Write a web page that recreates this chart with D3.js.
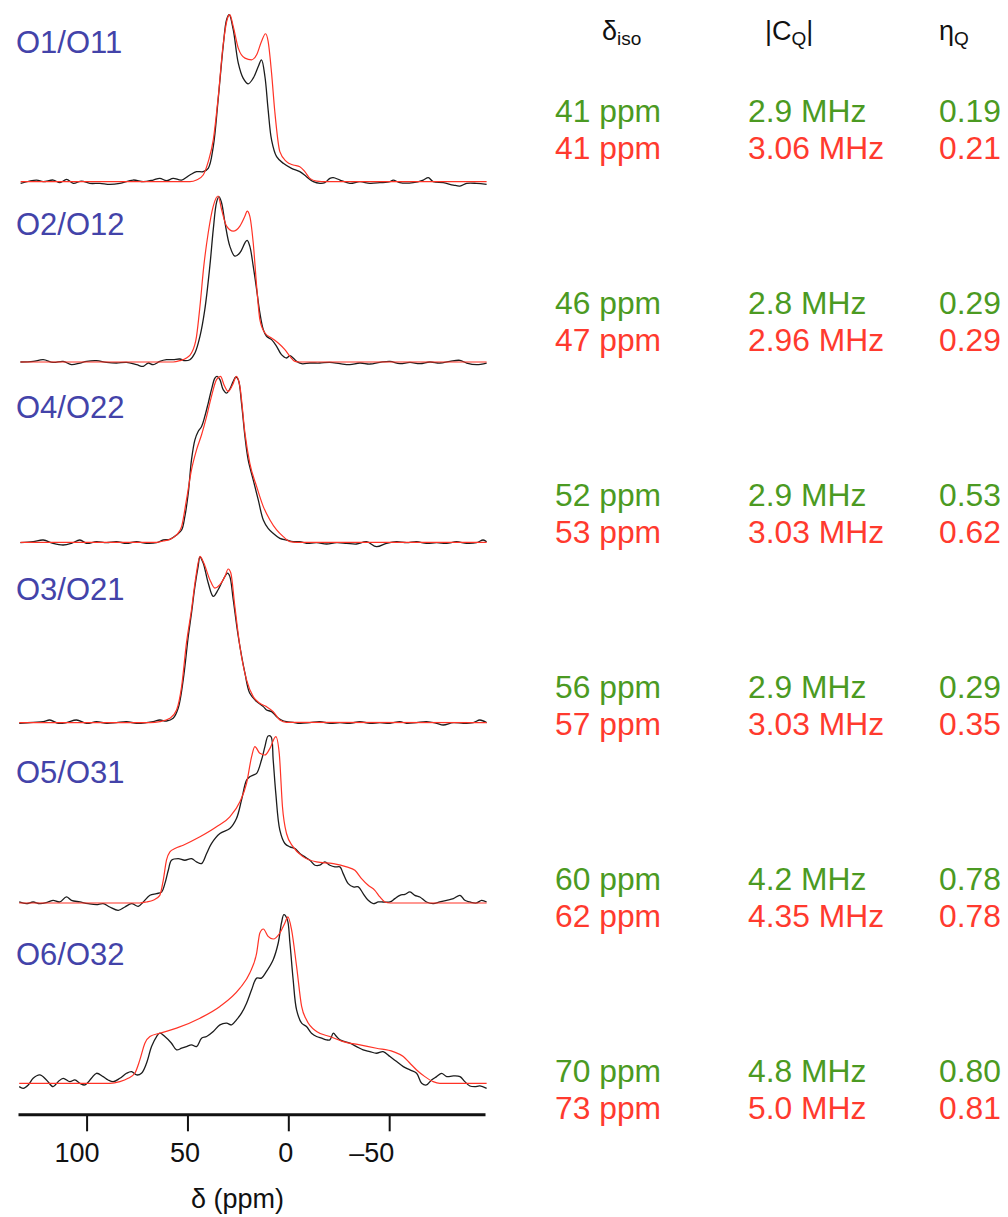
<!DOCTYPE html>
<html>
<head>
<meta charset="utf-8">
<script src="https://cdn.jsdelivr.net/npm/d3@7"></script>
<style>
  body { margin: 0; background: #fff; }
  svg { display: block; font-family: "Liberation Sans", Arial, Helvetica, sans-serif; }
</style>
</head>
<body>
<svg id="chart" width="1008" height="1217"></svg>
<script>
// Site labels, one per stacked spectrum (top to bottom)
const sites = ["O1/O11", "O2/O12", "O4/O22", "O3/O21", "O5/O31", "O6/O32"];

// Fit parameters: experiment (green) and simulation (red)
const isoExp = ["41 ppm", "46 ppm", "52 ppm", "56 ppm", "60 ppm", "70 ppm"];
const isoSim = ["41 ppm", "47 ppm", "53 ppm", "57 ppm", "62 ppm", "73 ppm"];
const cqExp = ["2.9 MHz", "2.8 MHz", "2.9 MHz", "2.9 MHz", "4.2 MHz", "4.8 MHz"];
const cqSim = ["3.06 MHz", "2.96 MHz", "3.03 MHz", "3.03 MHz", "4.35 MHz", "5.0 MHz"];
const etaExp = ["0.19", "0.29", "0.53", "0.29", "0.78", "0.80"];
const etaSim = ["0.21", "0.29", "0.62", "0.35", "0.78", "0.81"];

// Axis ticks
const tickValues = [100, 50, 0, -50];
const tickLabels = ["100", "50", "0", "\u201350"];

// Spectra as [ppm, normalised intensity]
const expO1 = [[132.7,-0.01],[124.8,0.01],[121.5,0],[116.5,0.01],[113.2,-0.006],[109.9,0.014],[106.6,-0.01],[102.5,0.004],[98.4,-0.01],[93.4,-0.01],[88.5,-0.016],[83.5,-0.01],[76.9,0.01],[71.9,0],[67.0,0.01],[63.7,0.02],[60.4,0.006],[57.1,0.02],[52.9,0.01],[48.8,0.04],[45.5,0.06],[42.2,0.06],[39.7,0.08],[37.2,0.21],[34.8,0.49],[32.3,0.81],[30.6,0.97],[29.3,1.0],[27.3,0.91],[24.8,0.71],[22.4,0.62],[19.9,0.586],[17.4,0.62],[14.9,0.69],[13.3,0.73],[11.6,0.63],[10.0,0.43],[8.3,0.25],[5.8,0.15],[2.5,0.11],[-1.6,0.08],[-5.7,0.06],[-9.0,0.03],[-12.4,0],[-15.7,-0.01],[-18.1,-0.006],[-20.6,0.02],[-22.3,0.024],[-25.6,0.01],[-30.5,-0.01],[-35.5,0],[-40.4,-0.01],[-45.4,-0.006],[-50.4,0],[-52.0,0.01],[-55.3,-0.006],[-61.9,-0.006],[-66.9,0.01],[-69.4,0.024],[-71.8,0],[-76.8,-0.006],[-81.8,-0.02],[-85.1,-0.026],[-88.4,-0.01],[-93.3,-0.01],[-98.3,-0.016]];
const simO1 = [[132.7,0],[48.8,0],[45.5,0.01],[42.2,0.04],[39.7,0.12],[37.2,0.25],[34.8,0.5],[32.3,0.82],[30.1,0.98],[29.0,1.0],[27.3,0.93],[24.8,0.8],[21.5,0.74],[18.2,0.73],[15.7,0.76],[13.3,0.84],[11.3,0.886],[10.0,0.84],[8.3,0.65],[6.7,0.42],[4.2,0.18],[0.9,0.12],[-2.4,0.1],[-5.7,0.09],[-8.2,0.06],[-10.7,0.02],[-14.0,0.004],[-19.0,0],[-98.3,0]];

const expO2 = [[132.8,0],[126.5,0.004],[121.5,0.014],[116.6,-0.002],[111.6,0.004],[107.5,-0.016],[103.3,-0.006],[100.0,0.004],[95.1,0.008],[90.1,-0.002],[85.2,-0.006],[80.2,-0.002],[75.2,-0.016],[71.9,-0.026],[69.5,-0.006],[67.0,-0.016],[63.7,0.004],[60.4,0.014],[57.1,0.014],[53.8,0.018],[51.3,0.008],[48.8,0.014],[46.3,0.054],[43.8,0.154],[41.4,0.314],[38.9,0.574],[37.2,0.794],[35.6,0.954],[34.4,0.99],[33.1,0.954],[31.4,0.834],[29.0,0.694],[26.5,0.634],[24.0,0.654],[21.5,0.714],[20.4,0.728],[19.1,0.694],[17.4,0.574],[15.7,0.434],[14.1,0.294],[12.4,0.194],[10.8,0.154],[8.3,0.134],[5.8,0.094],[3.4,0.044],[0.9,0.024],[-0.8,0.038],[-2.4,0.024],[-4.1,0.004],[-6.6,-0.01],[-10.7,-0.006],[-15.6,-0.006],[-20.6,-0.002],[-25.6,-0.01],[-30.5,-0.016],[-35.5,-0.006],[-40.4,-0.012],[-45.4,-0.002],[-50.4,0.004],[-55.3,-0.01],[-60.3,-0.002],[-65.2,-0.01],[-70.2,0],[-75.1,-0.006],[-80.1,0.004],[-85.1,0.01],[-88.4,-0.006],[-93.3,-0.016],[-98.3,-0.006]];
const simO2 = [[132.8,0],[57.1,0],[53.8,0.008],[50.5,0.024],[48.0,0.054],[45.5,0.154],[43.8,0.334],[41.9,0.574],[39.7,0.774],[37.2,0.934],[34.8,0.994],[33.1,0.914],[30.6,0.814],[27.3,0.784],[24.0,0.814],[21.5,0.874],[20.4,0.904],[19.1,0.874],[17.4,0.714],[15.7,0.454],[14.1,0.254],[11.6,0.174],[8.3,0.144],[5.0,0.114],[1.7,0.074],[-0.8,0.034],[-3.3,0.004],[-5.7,0],[-98.3,0]];

const expO4 = [[132.8,-0.002],[126.5,0.004],[121.5,0.014],[116.6,-0.006],[111.6,-0.016],[107.5,-0.006],[103.3,0.014],[100.0,-0.006],[95.1,0.004],[90.1,-0.002],[85.2,0.004],[80.2,-0.006],[75.2,0.004],[70.3,-0.006],[65.3,-0.002],[62.0,0.014],[58.7,0.018],[55.4,0.044],[52.9,0.074],[51.3,0.154],[49.6,0.294],[48.0,0.494],[46.3,0.614],[44.7,0.664],[43.0,0.694],[41.4,0.754],[39.7,0.834],[38.1,0.914],[36.4,0.984],[35.3,0.994],[33.9,0.974],[32.3,0.914],[30.6,0.894],[29.0,0.918],[27.3,0.964],[26.0,0.99],[24.8,0.974],[23.2,0.834],[21.5,0.634],[19.9,0.494],[17.4,0.374],[14.9,0.254],[12.4,0.134],[10.0,0.084],[7.5,0.054],[4.2,0.024],[0.9,0.014],[-2.4,0.004],[-5.7,0.004],[-9.0,-0.006],[-14.0,-0.002],[-19.0,-0.01],[-23.9,-0.002],[-28.9,-0.006],[-33.8,-0.01],[-38.8,0.004],[-43.7,-0.026],[-48.7,-0.006],[-53.7,0.004],[-58.6,-0.002],[-63.6,0.004],[-68.5,-0.006],[-73.5,-0.002],[-78.5,-0.006],[-83.4,0.004],[-88.4,-0.006],[-93.3,-0.002],[-96.6,0.014],[-98.3,0.004]];
const simO4 = [[132.8,0],[65.3,0],[62.0,0.008],[58.7,0.018],[55.4,0.044],[52.9,0.094],[50.5,0.254],[48.0,0.434],[45.5,0.554],[43.0,0.644],[40.5,0.754],[38.1,0.874],[35.6,0.974],[33.6,0.994],[31.9,0.944],[29.8,0.904],[27.6,0.944],[25.7,0.994],[24.0,0.934],[21.5,0.654],[19.1,0.474],[15.7,0.334],[12.4,0.214],[9.1,0.134],[5.8,0.074],[2.5,0.034],[-0.8,0.004],[-4.1,0],[-98.3,0]];

const expO3 = [[133.4,-0.004],[126.5,0.002],[121.5,0.006],[118.2,0.016],[114.1,-0.004],[110.0,0],[105.0,0.016],[100.0,-0.004],[95.1,0.006],[90.1,-0.004],[85.2,0],[80.2,0.006],[75.2,-0.004],[70.3,0],[67.0,0.006],[63.7,0.016],[60.4,0.01],[57.1,0.026],[54.6,0.086],[52.1,0.256],[49.6,0.516],[48.0,0.656],[46.3,0.816],[44.7,0.936],[43.8,0.992],[42.2,0.956],[39.7,0.836],[37.2,0.756],[34.8,0.796],[32.3,0.856],[30.1,0.896],[29.0,0.876],[27.3,0.736],[24.8,0.516],[21.5,0.296],[19.1,0.176],[15.7,0.126],[12.4,0.096],[10.8,0.076],[8.3,0.066],[5.8,0.036],[3.4,0.016],[0.9,0.006],[-2.4,0.002],[-5.7,-0.004],[-10.7,0],[-15.6,0.006],[-20.6,-0.004],[-25.6,0],[-30.5,-0.004],[-35.5,0.006],[-40.4,-0.004],[-45.4,0],[-50.4,-0.004],[-55.3,0.006],[-58.6,-0.004],[-63.6,0],[-68.5,0.006],[-73.5,-0.004],[-76.8,-0.014],[-81.8,0],[-86.7,-0.004],[-91.7,0],[-95.0,0.016],[-98.3,0]];
const simO3 = [[133.4,0],[68.6,0],[63.7,0.006],[58.7,0.026],[55.4,0.076],[52.9,0.216],[50.5,0.476],[48.0,0.676],[45.8,0.876],[43.8,0.996],[41.9,0.956],[38.9,0.856],[36.4,0.806],[33.9,0.826],[31.4,0.876],[29.8,0.92],[28.5,0.896],[26.5,0.696],[24.0,0.456],[20.7,0.256],[17.4,0.156],[14.1,0.116],[10.8,0.096],[7.5,0.066],[4.2,0.016],[0.9,0.002],[-98.3,0]];

const expO5 = [[133.4,0.006],[129.8,-0.004],[126.5,0.006],[123.2,-0.004],[119.0,0.006],[116.6,0.016],[113.3,0.006],[110.0,0.036],[107.5,0.016],[103.3,0.006],[99.2,-0.004],[95.1,-0.01],[91.8,-0.004],[88.5,-0.024],[84.3,-0.044],[81.0,-0.024],[77.7,-0.004],[74.4,-0.02],[71.9,0.006],[68.6,0.046],[65.3,0.056],[62.8,0.066],[61.2,0.116],[59.5,0.196],[57.9,0.256],[54.6,0.266],[51.3,0.256],[48.0,0.266],[45.5,0.246],[43.0,0.236],[40.5,0.296],[38.1,0.356],[33.9,0.416],[29.0,0.446],[25.7,0.506],[23.2,0.616],[20.7,0.736],[19.1,0.756],[17.4,0.766],[15.7,0.776],[13.3,0.856],[11.6,0.936],[10.0,1.0],[8.6,0.996],[7.5,0.856],[6.2,0.656],[4.2,0.436],[1.7,0.356],[-0.8,0.336],[-3.3,0.326],[-5.7,0.296],[-8.2,0.276],[-10.7,0.256],[-13.2,0.226],[-15.6,0.226],[-18.1,0.246],[-20.6,0.226],[-23.1,0.216],[-25.6,0.216],[-27.2,0.176],[-29.7,0.116],[-32.2,0.096],[-34.7,0.096],[-37.1,0.056],[-39.6,0.016],[-42.1,-0.004],[-44.6,0.006],[-47.0,0.006],[-50.4,0.006],[-52.8,0.026],[-55.3,0.046],[-57.8,0.052],[-60.3,0.066],[-62.7,0.046],[-65.2,0.036],[-68.5,0.006],[-71.8,-0.004],[-75.1,0.006],[-78.5,0.016],[-81.8,0.026],[-85.1,0.046],[-87.5,0.016],[-90.0,0.006],[-93.3,0],[-95.8,0.016],[-98.3,0.006]];
const simO5 = [[133.4,0],[73.6,0],[70.3,0.006],[67.0,0.016],[63.7,0.046],[62.0,0.136],[60.4,0.256],[58.7,0.306],[56.2,0.326],[52.1,0.346],[43.8,0.396],[35.6,0.456],[29.0,0.516],[24.0,0.606],[20.7,0.716],[18.2,0.876],[16.6,0.936],[14.1,0.896],[11.6,0.886],[9.1,0.926],[6.2,0.996],[4.5,0.896],[2.9,0.576],[0.9,0.416],[-2.4,0.336],[-7.4,0.276],[-14.0,0.246],[-22.3,0.236],[-28.9,0.216],[-33.0,0.196],[-36.3,0.146],[-39.6,0.106],[-42.9,0.076],[-45.4,0.036],[-47.9,0.006],[-50.4,0],[-98.3,0]];

const expO6 = [[133.4,-0.02],[131.4,-0.03],[128.9,-0.01],[126.5,0.03],[123.2,0.05],[119.9,0.02],[116.6,-0.02],[114.1,0.01],[111.6,0.03],[108.3,0.01],[105.8,0.02],[103.3,0],[100.9,-0.01],[97.6,0.03],[95.1,0.06],[91.8,0.04],[89.3,0.02],[86.8,0.01],[83.5,0.03],[80.2,0.06],[77.7,0.07],[75.2,0.05],[72.8,0.06],[70.3,0.12],[67.8,0.22],[65.3,0.28],[63.7,0.30],[61.2,0.28],[57.9,0.24],[55.4,0.20],[52.9,0.21],[50.5,0.22],[48.0,0.23],[45.5,0.22],[43.0,0.27],[40.5,0.28],[37.2,0.31],[33.9,0.35],[30.6,0.36],[28.1,0.35],[25.7,0.38],[23.2,0.42],[20.7,0.48],[18.2,0.56],[15.7,0.63],[13.3,0.63],[10.8,0.67],[7.5,0.74],[5.0,0.84],[3.4,0.96],[2.2,1.01],[0.5,0.98],[-0.8,0.84],[-2.4,0.62],[-4.1,0.44],[-6.6,0.36],[-9.0,0.34],[-11.5,0.30],[-14.0,0.28],[-16.5,0.27],[-19.0,0.26],[-20.6,0.26],[-22.3,0.30],[-23.9,0.28],[-25.6,0.26],[-28.0,0.25],[-30.5,0.24],[-33.8,0.22],[-37.1,0.20],[-40.4,0.19],[-43.7,0.18],[-47.0,0.19],[-50.4,0.16],[-53.7,0.13],[-57.0,0.10],[-60.3,0.08],[-63.6,0.06],[-66.1,0],[-68.5,-0.01],[-71.0,0.02],[-73.5,0.04],[-76.0,0.06],[-78.5,0.04],[-81.8,0.044],[-85.1,0.04],[-87.5,0.01],[-90.0,-0.016],[-92.5,-0.02],[-95.0,-0.016],[-98.3,-0.03]];
const simO6 = [[133.4,0],[88.5,0],[83.5,0.01],[79.4,0.03],[76.1,0.06],[73.6,0.14],[71.1,0.24],[68.6,0.28],[63.7,0.30],[55.4,0.33],[43.8,0.39],[33.9,0.46],[24.0,0.57],[19.1,0.66],[15.7,0.78],[14.1,0.90],[12.4,0.924],[10.0,0.88],[7.5,0.864],[4.2,0.90],[1.7,0.96],[0.2,0.996],[-1.6,0.92],[-4.1,0.70],[-6.6,0.46],[-9.0,0.38],[-14.0,0.31],[-20.6,0.28],[-27.2,0.25],[-35.5,0.23],[-43.7,0.21],[-52.0,0.19],[-57.0,0.16],[-60.3,0.12],[-63.6,0.08],[-67.7,0.04],[-71.8,0.01],[-75.1,0],[-98.3,0]];

const expSpectra = [expO1, expO2, expO4, expO3, expO5, expO6];
const simSpectra = [simO1, simO2, simO4, simO3, simO5, simO6];

const colors = { exp: "#1c1c1c", sim: "#ff3326", green: "#4b9a22", red: "#ff3a2e", site: "#4343a9" };

const svg = d3.select("#chart");

// Shared chemical shift axis (ppm runs right to left)
const xScale = d3.scaleLinear().domain([134, -97.5]).range([18, 485]);

// Baseline of each stacked spectrum, and the height of a unit peak
const baseScale = d3.scaleLinear().domain([0, sites.length - 1]).range([181.7, 1083.3]);
const peakHeight = 167;
const labelScale = d3.scaleLinear().domain([0, sites.length - 1]).range([53, 965]);
const rowScale = d3.scaleLinear().domain([0, sites.length - 1]).range([122.3, 1081.7]);
const rowGap = 37;

sites.forEach((site, i) => {
  const yScale = d3.scaleLinear()
    .domain([0, 1])
    .range([baseScale(i), baseScale(i) - peakHeight]);

  const expLine = d3.line()
    .x(d => xScale(d[0]))
    .y(d => yScale(d[1]))
    .curve(d3.curveCatmullRom.alpha(0.5));

  const simLine = d3.line()
    .x(d => xScale(d[0]))
    .y(d => yScale(d[1]))
    .curve(d3.curveMonotoneX);

  const g = svg.append("g").attr("class", "spectrum");

  g.append("path")
    .datum(expSpectra[i])
    .attr("fill", "none")
    .attr("stroke", colors.exp)
    .attr("stroke-width", 1.3)
    .attr("stroke-linejoin", "round")
    .attr("d", expLine);

  g.append("path")
    .datum(simSpectra[i])
    .attr("fill", "none")
    .attr("stroke", colors.sim)
    .attr("stroke-width", 1.2)
    .attr("stroke-linejoin", "round")
    .attr("d", simLine);

  // Site label
  svg.append("text")
    .attr("x", 16)
    .attr("y", labelScale(i))
    .attr("fill", colors.site)
    .attr("font-size", 31)
    .text(site);

  // Parameter table rows
  const cols = [
    { x: 555, exp: isoExp[i], sim: isoSim[i] },
    { x: 748, exp: cqExp[i], sim: cqSim[i] },
    { x: 939, exp: etaExp[i], sim: etaSim[i] }
  ];
  cols.forEach(c => {
    svg.append("text")
      .attr("x", c.x)
      .attr("y", rowScale(i))
      .attr("fill", colors.green)
      .attr("font-size", 31.8)
      .text(c.exp);
    svg.append("text")
      .attr("x", c.x)
      .attr("y", rowScale(i) + rowGap)
      .attr("fill", colors.red)
      .attr("font-size", 31.8)
      .text(c.sim);
  });
});

// Column headers with subscripts
const headers = [
  { x: 602, main: "\u03b4", sub: "iso", tail: "" },
  { x: 765, main: "|C", sub: "Q", tail: "|" },
  { x: 939, main: "\u03b7", sub: "Q", tail: "" }
];
headers.forEach(h => {
  const t = svg.append("text")
    .attr("x", h.x)
    .attr("y", 40)
    .attr("font-size", 27)
    .attr("fill", "#111");
  t.append("tspan").text(h.main);
  t.append("tspan").attr("font-size", 19).attr("dy", 5).text(h.sub);
  if (h.tail) t.append("tspan").attr("dy", -5).text(h.tail);
});

// Bottom axis
const xAxis = d3.axisBottom(xScale)
  .tickValues(tickValues)
  .tickFormat((d, i) => tickLabels[i])
  .tickSize(17)
  .tickSizeOuter(0)
  .tickPadding(12);

const axisG = svg.append("g")
  .attr("transform", "translate(0,1114.3)")
  .call(xAxis);

axisG.select(".domain").attr("stroke", "#111").attr("stroke-width", 3);
axisG.selectAll(".tick line").attr("stroke", "#111").attr("stroke-width", 2);
axisG.selectAll(".tick text")
  .attr("font-size", 27)
  .attr("font-family", "\"Liberation Sans\", Arial, sans-serif")
  .attr("fill", "#111")
  .attr("dx", d => (d === 100 ? -10 : d < 0 ? -18 : -3));

svg.append("text")
  .attr("x", 237.5)
  .attr("y", 1208)
  .attr("text-anchor", "middle")
  .attr("font-size", 27)
  .attr("fill", "#111")
  .text("\u03b4 (ppm)");
</script>
</body>
</html>
